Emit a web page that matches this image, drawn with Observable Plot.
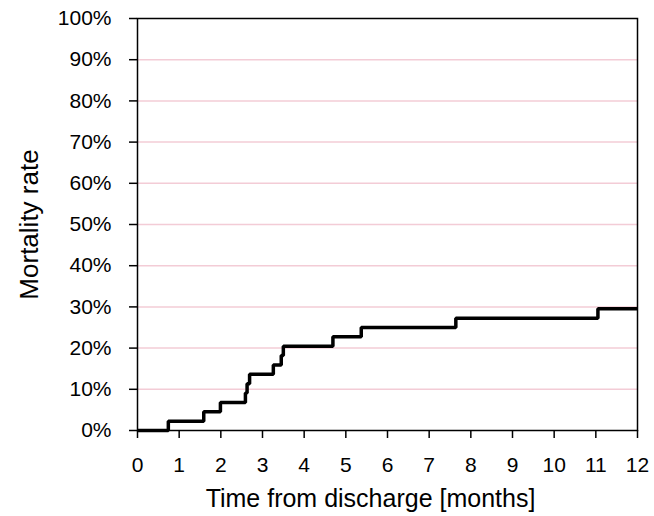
<!DOCTYPE html>
<html>
<head>
<meta charset="utf-8">
<script src="https://cdn.jsdelivr.net/npm/d3@7"></script>
<script src="https://cdn.jsdelivr.net/npm/@observablehq/plot@0.6"></script>
<style>
  html, body { margin: 0; padding: 0; background: #fff; }
  #chart svg { display: block; }
</style>
</head>
<body>
<div id="chart"></div>
<script>
// Kaplan–Meier style cumulative mortality (step after each event)
const months = [0, 0.74, 1.59, 1.99, 2.59, 2.63, 2.69, 3.26, 3.45, 3.50, 4.69, 5.37, 7.64, 11.05, 12];
const mortality = [0, 2.27, 4.55, 6.82, 9.09, 11.36, 13.64, 15.91, 18.18, 20.45, 22.73, 25.00, 27.27, 29.55, 29.55];
const xTicks = [0, 1, 2, 3, 4, 5, 6, 7, 8, 9, 10, 11, 12];
const yTicks = [0, 10, 20, 30, 40, 50, 60, 70, 80, 90, 100];
const gridValues = [10, 20, 30, 40, 50, 60, 70, 80, 90];
const xTitle = ["Time from discharge [months]"];
const yTitle = ["Mortality rate"];

const data = months.map((m, i) => ({m, v: mortality[i]}));

const chart = Plot.plot({
  width: 654,
  height: 516,
  marginLeft: 137,
  marginRight: 17,
  marginTop: 18,
  marginBottom: 86,
  style: {fontFamily: "'Liberation Sans', Arial, sans-serif", fontSize: "21px", color: "#000", background: "#fff"},
  x: {domain: [0, 12]},
  y: {domain: [0, 100]},
  marks: [
    Plot.ruleY(gridValues, {stroke: "#f3ccd6", strokeWidth: 1.5}),
    Plot.axisX(xTicks, {tickSize: 8, tickPadding: 19, label: null, fontSize: 21, strokeWidth: 1.5}),
    Plot.axisY(yTicks, {tickSize: 8, tickPadding: 18, label: null, fontSize: 21, strokeWidth: 1.5, tickFormat: d => d + "%"}),
    Plot.frame({stroke: "#000", strokeWidth: 1.5}),
    Plot.line(data, {x: "m", y: "v", curve: "step-after", stroke: "#000", strokeWidth: 3.5, strokeLinejoin: "miter", strokeLinecap: "butt"}),
    Plot.text(xTitle, {frameAnchor: "bottom", dx: -17, dy: 76, fontSize: 25, fill: "#000"}),
    Plot.text(yTitle, {frameAnchor: "left", textAnchor: "middle", rotate: -90, dx: -108, fontSize: 26, fill: "#000"})
  ]
});
document.getElementById("chart").appendChild(chart);
</script>
</body>
</html>
